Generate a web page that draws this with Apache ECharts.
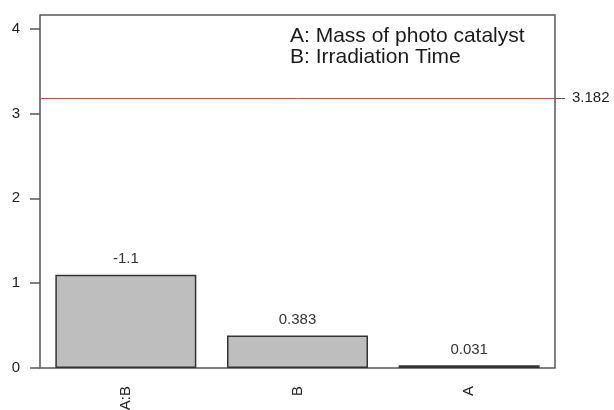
<!DOCTYPE html>
<html>
<head>
<meta charset="utf-8">
<script src="https://cdn.jsdelivr.net/npm/echarts@6/dist/echarts.min.js"></script>
<style>
  html, body { margin: 0; padding: 0; background: #fff; }
  #chart { width: 614px; height: 410px; }
</style>
</head>
<body>
<div id="chart"></div>
<script>
// bar categories and heights (absolute effects)
const factors = ['A:B', 'B', 'A']
const effects = [1.1, 0.383, 0.031]
// labels printed above bars (signed)
const effectLabels = ['-1.1', '0.383', '0.031']
const yTicks = [0, 1, 2, 3, 4]
const criticalValue = 3.182
const legendLines = ['A: Mass of photo catalyst', 'B: Irradiation Time']

const chart = echarts.init(document.getElementById('chart'))
const font = 'Liberation Sans, Arial, sans-serif'

const option = {
  animation: false,
  grid: {
    left: 40,
    right: 59,
    top: 15,
    bottom: 42,
    outerBoundsMode: 'none',
    containLabel: false,
    show: true,
    borderColor: '#555',
    borderWidth: 1.5
  },
  graphic: legendLines.map((t, i) => ({
    type: 'text',
    left: 290,
    top: 26 + i * 21,
    style: { text: t, fontSize: 21, fontFamily: font, fill: '#1a1a1a' }
  })),
  xAxis: {
    type: 'category',
    data: factors,
    axisLine: { show: false },
    axisTick: { show: false },
    axisLabel: {
      rotate: 90,
      margin: 18,
      fontSize: 15,
      fontFamily: font,
      color: '#222'
    }
  },
  yAxis: [
    {
      type: 'value',
      min: 0,
      max: 4.16,
      interval: 1,
      splitLine: { show: false },
      axisLine: { show: false },
      axisTick: {
        show: true,
        length: 10,
        lineStyle: { color: '#555', width: 1.5 },
        customValues: yTicks
      },
      axisLabel: {
        margin: 20,
        fontSize: 15,
        fontFamily: font,
        color: '#222',
        customValues: yTicks
      }
    },
    {
      type: 'value',
      position: 'right',
      min: 0,
      max: 4.16,
      splitLine: { show: false },
      axisLine: { show: false },
      axisTick: {
        show: true,
        length: 10,
        lineStyle: { color: '#555' },
        customValues: [criticalValue]
      },
      axisLabel: {
        margin: 17,
        fontSize: 15,
        fontFamily: font,
        color: '#222',
        customValues: [criticalValue],
        formatter: v => v.toFixed(3)
      }
    }
  ],
  series: [
    {
      type: 'bar',
      data: effects,
      barWidth: 141,
      itemStyle: {
        color: '#bebebe',
        borderColor: '#333',
        borderWidth: 1.5
      },
      label: {
        show: true,
        position: 'top',
        distance: 8,
        fontSize: 15,
        fontFamily: font,
        color: '#333',
        formatter: p => effectLabels[p.dataIndex]
      },
      markLine: {
        silent: true,
        symbol: 'none',
        label: { show: false },
        emphasis: { disabled: true },
        lineStyle: { color: '#c0504d', width: 1, type: 'solid', opacity: 1 },
        data: [{ yAxis: criticalValue }]
      }
    }
  ]
}

chart.setOption(option)
</script>
</body>
</html>
